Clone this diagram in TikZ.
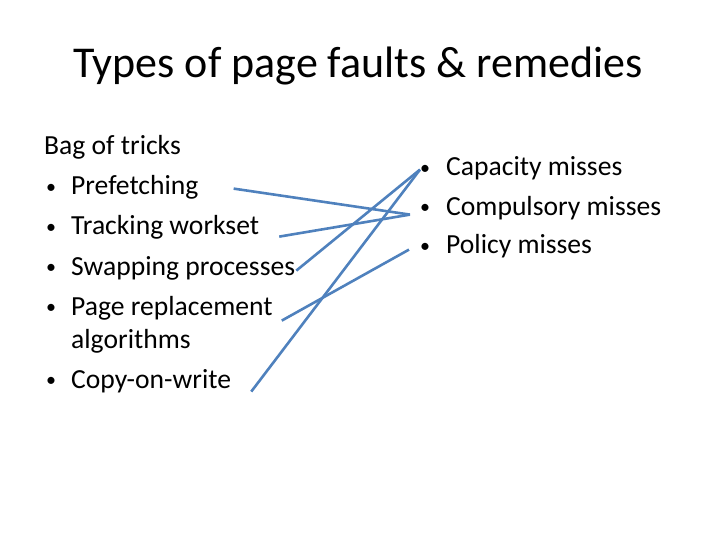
\documentclass[tikz,border=0pt]{standalone}
\usepackage{fontspec}
\setmainfont{Carlito}
\usetikzlibrary{calc}
\definecolor{linkblue}{HTML}{4F81BD}
\newcommand{\leftbul}{\llap{\makebox[25pt][l]{\fontsize{20}{20}\selectfont\raisebox{1.5pt}{\textbullet}}}}
\newcommand{\rightbul}{\llap{\makebox[26pt][l]{\fontsize{20}{20}\selectfont\raisebox{1.5pt}{\textbullet}}}}

\begin{document}
\begin{tikzpicture}[
        x=1pt, y=-1pt,
        every node/.append style={inner sep=0pt},
        item/.style={anchor=base west, font=\fontsize{27.6}{32}\selectfont},
        link/.style={draw=linkblue, line width=2.6pt}
    ]
    \useasboundingbox (0,0) rectangle (720,540);

    \node (title) [anchor=base, font=\fontsize{44}{52}\selectfont] at (358,78) {Types of page faults \& remedies};

    % left column
    \node (bag) [item] at (44,155) {Bag of tricks};
    \node (pref) [item] at (71,195) {\leftbul Prefetching};
    \node (track) [item] at (71,235) {\leftbul Tracking workset};
    \node (swap) [item] at (71,275) {\leftbul Swapping processes};
    \node (repl) [item] at (71,315) {\leftbul Page replacement};
    \node (algo) [item] at (71,348) {algorithms};
    \node (cow) [item] at (71,388) {\leftbul Copy-on-write};

    % right column
    \node (cap) [item] at (446,176) {\rightbul Capacity misses};
    \node (comp) [item] at (446,215) {\rightbul Compulsory misses};
    \node (pol) [item] at (446,254) {\rightbul Policy misses};

    % links
    \draw [link] ($(pref.mid east)+(35,-4)$) -- ($(comp.mid west)+(-36,2)$);
    \draw [link] ($(track.mid east)+(20,4)$) -- ($(comp.mid west)+(-36,2)$);
    \draw [link] ($(swap.mid east)+(1,-2)$) -- ($(cap.mid west)+(-26,-4)$);
    \draw [link] ($(repl.mid east)+(9,8)$) -- ($(pol.mid west)+(-37,-2)$);
    \draw [link] ($(cow.mid east)+(20,6)$) -- ($(cap.mid west)+(-26,-4)$);
\end{tikzpicture}
\end{document}
